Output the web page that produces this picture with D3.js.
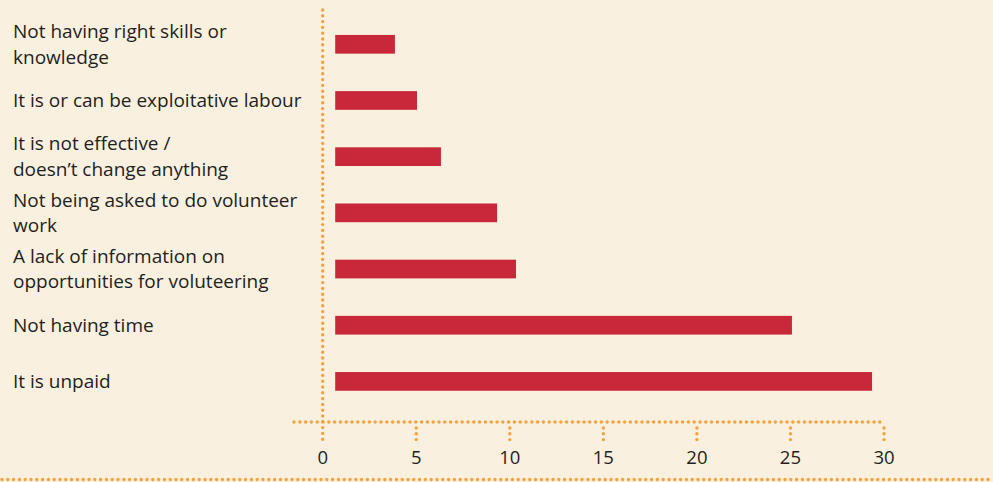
<!DOCTYPE html>
<html>
<head>
<meta charset="utf-8">
<script src="https://cdn.jsdelivr.net/npm/d3@7"></script>
<style>
  html, body { margin: 0; padding: 0; background: #f9f0df; }
  svg { display: block; }
  text { font-family: "Open Sans", "Noto Sans", sans-serif; fill: #231f20; }
</style>
</head>
<body>
<div id="chart"></div>
<script>
// categories (top to bottom), each label split into its printed lines
var categories = [
  "Not having right skills or knowledge",
  "It is or can be exploitative labour",
  "It is not effective / doesn't change anything",
  "Not being asked to do volunteer work",
  "A lack of information on opportunities for voluteering",
  "Not having time",
  "It is unpaid"
];
var labelLines = [
  ["Not having right skills or", "knowledge"],
  ["It is or can be exploitative labour"],
  ["It is not effective /", "doesn\u2019t change anything"],
  ["Not being asked to do volunteer", "work"],
  ["A lack of information on", "opportunities for voluteering"],
  ["Not having time"],
  ["It is unpaid"]
];
var values = [3.86, 5.04, 6.32, 9.32, 10.33, 25.08, 29.36];
var ticks = [0, 5, 10, 15, 20, 25, 30];

var W = 993, H = 482;
var red = "#c8283a", orange = "#f7a13d";

var svg = d3.select("#chart").append("svg")
    .attr("width", W)
    .attr("height", H);

var x = d3.scaleLinear().domain([0, 30]).range([322.7, 884]);
var y = d3.scaleBand().domain(categories).range([16.2, 409.5])
    .paddingInner(0.667).paddingOuter(0.3335);

function dotted(sel) {
  return sel.attr("stroke", orange)
    .attr("stroke-width", 3.4)
    .attr("stroke-linecap", "round")
    .attr("stroke-dasharray", "0,5.8")
    .attr("fill", "none");
}

// bottom dotted rule
svg.append("line").attr("x1", 2).attr("x2", W).attr("y1", 479.5).attr("y2", 479.5).call(dotted);

// vertical axis line
svg.append("line").attr("x1", x(0)).attr("x2", x(0)).attr("y1", 10).attr("y2", 440).call(dotted);

// horizontal axis line
var axisY = 422;
svg.append("line").attr("x1", 294).attr("x2", x(30)).attr("y1", axisY).attr("y2", axisY).call(dotted);

// tick marks + labels
svg.selectAll(".tick").data(ticks.slice(1)).enter().append("line")
  .attr("x1", d => x(d)).attr("x2", d => x(d))
  .attr("y1", axisY + 6).attr("y2", 440)
  .call(dotted);

svg.selectAll(".tlabel").data(ticks).enter().append("text")
  .attr("x", d => x(d))
  .attr("y", 464)
  .attr("text-anchor", "middle")
  .style("font-size", "18.5px")
  .text(d => d);

// bars (start a little right of the axis)
svg.selectAll("rect").data(values).enter().append("rect")
  .attr("x", x(0) + 12.5)
  .attr("y", (d, i) => y(categories[i]))
  .attr("width", d => x(d) - x(0) - 12.5)
  .attr("height", y.bandwidth())
  .attr("fill", red);

// category labels
var lineH = 25.5;
var lab = svg.selectAll(".clabel").data(labelLines).enter().append("text")
  .attr("class", "clabel")
  .style("font-size", "19px")
  .attr("x", 13);

lab.selectAll("tspan").data((d, i) => d.map(function(t, j) {
    var c = y(categories[i]) + y.bandwidth() / 2;
    return {t: t, y: c + 6.5 + (j - (d.length - 1) / 2) * lineH};
  }))
  .enter().append("tspan")
  .attr("x", 13)
  .attr("y", d => d.y)
  .text(d => d.t);
</script>
</body>
</html>
